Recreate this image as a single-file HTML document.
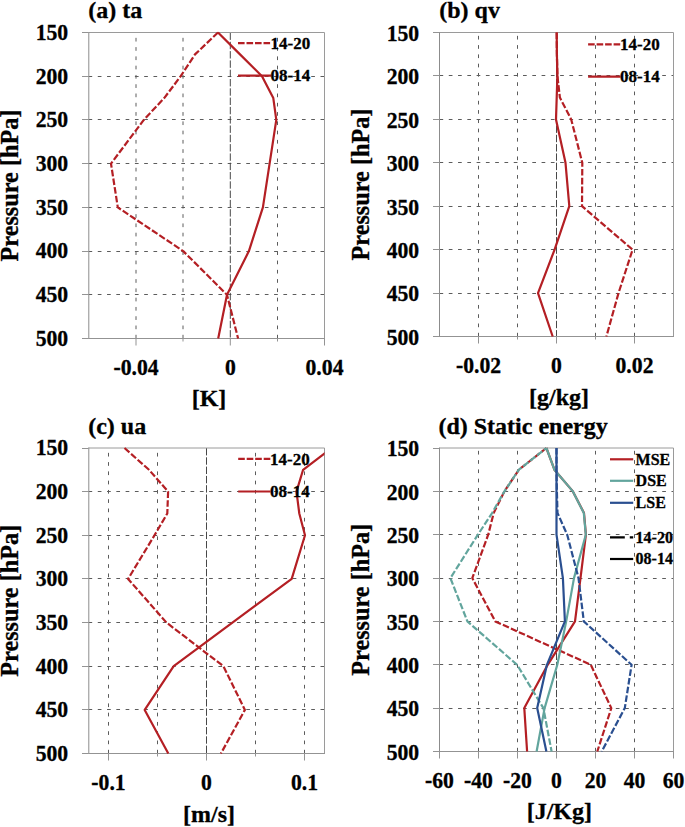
<!DOCTYPE html>
<html><head><meta charset="utf-8"><style>
html,body{margin:0;padding:0;background:#fff;width:685px;height:827px;overflow:hidden}
svg{display:block;font-family:"Liberation Serif",serif}
</style></head><body>
<svg width="685" height="827" viewBox="0 0 685 827">
<rect width="685" height="827" fill="#fff"/>
<line x1="88.5" y1="76.5" x2="324.5" y2="76.5" stroke="#5c5c5c" stroke-width="1" stroke-dasharray="3.7 5.58"/>
<line x1="88.5" y1="119.5" x2="324.5" y2="119.5" stroke="#5c5c5c" stroke-width="1" stroke-dasharray="3.7 5.58"/>
<line x1="88.5" y1="163.5" x2="324.5" y2="163.5" stroke="#5c5c5c" stroke-width="1" stroke-dasharray="3.7 5.58"/>
<line x1="88.5" y1="207.5" x2="324.5" y2="207.5" stroke="#5c5c5c" stroke-width="1" stroke-dasharray="3.7 5.58"/>
<line x1="88.5" y1="251.5" x2="324.5" y2="251.5" stroke="#5c5c5c" stroke-width="1" stroke-dasharray="3.7 5.58"/>
<line x1="88.5" y1="294.5" x2="324.5" y2="294.5" stroke="#5c5c5c" stroke-width="1" stroke-dasharray="3.7 5.58"/>
<line x1="136.0" y1="338.5" x2="136.0" y2="32.5" stroke="#5c5c5c" stroke-width="1" stroke-dasharray="3.7 5.58"/>
<line x1="183.0" y1="338.5" x2="183.0" y2="32.5" stroke="#5c5c5c" stroke-width="1" stroke-dasharray="3.7 5.58"/>
<line x1="277.5" y1="338.5" x2="277.5" y2="32.5" stroke="#5c5c5c" stroke-width="1" stroke-dasharray="3.7 5.58"/>
<line x1="230.3" y1="32.5" x2="230.3" y2="338.5" stroke="#484848" stroke-width="1" stroke-dasharray="7.4 1.9"/>
<path d="M88.5 32.5H324.5V338.5" fill="none" stroke="#9a9a9a" stroke-width="1"/>
<line x1="88.8" y1="32.0" x2="88.8" y2="339.0" stroke="#8c8c8c" stroke-width="1"/>
<line x1="88.5" y1="338.5" x2="325.0" y2="338.5" stroke="#939393" stroke-width="1"/>
<line x1="82.0" y1="32.5" x2="88.5" y2="32.5" stroke="#939393" stroke-width="1"/>
<text transform="translate(68.20,39.90) scale(1,1.045)" text-anchor="end" font-size="21.7" font-family="Liberation Serif" font-weight="bold" stroke="#000" stroke-width="0.3">150</text>
<line x1="82.0" y1="76.5" x2="88.5" y2="76.5" stroke="#939393" stroke-width="1"/>
<text transform="translate(68.20,83.61) scale(1,1.045)" text-anchor="end" font-size="21.7" font-family="Liberation Serif" font-weight="bold" stroke="#000" stroke-width="0.3">200</text>
<line x1="82.0" y1="119.5" x2="88.5" y2="119.5" stroke="#939393" stroke-width="1"/>
<text transform="translate(68.20,127.33) scale(1,1.045)" text-anchor="end" font-size="21.7" font-family="Liberation Serif" font-weight="bold" stroke="#000" stroke-width="0.3">250</text>
<line x1="82.0" y1="163.5" x2="88.5" y2="163.5" stroke="#939393" stroke-width="1"/>
<text transform="translate(68.20,171.04) scale(1,1.045)" text-anchor="end" font-size="21.7" font-family="Liberation Serif" font-weight="bold" stroke="#000" stroke-width="0.3">300</text>
<line x1="82.0" y1="207.5" x2="88.5" y2="207.5" stroke="#939393" stroke-width="1"/>
<text transform="translate(68.20,214.76) scale(1,1.045)" text-anchor="end" font-size="21.7" font-family="Liberation Serif" font-weight="bold" stroke="#000" stroke-width="0.3">350</text>
<line x1="82.0" y1="251.5" x2="88.5" y2="251.5" stroke="#939393" stroke-width="1"/>
<text transform="translate(68.20,258.47) scale(1,1.045)" text-anchor="end" font-size="21.7" font-family="Liberation Serif" font-weight="bold" stroke="#000" stroke-width="0.3">400</text>
<line x1="82.0" y1="294.5" x2="88.5" y2="294.5" stroke="#939393" stroke-width="1"/>
<text transform="translate(68.20,302.19) scale(1,1.045)" text-anchor="end" font-size="21.7" font-family="Liberation Serif" font-weight="bold" stroke="#000" stroke-width="0.3">450</text>
<line x1="82.0" y1="338.5" x2="88.5" y2="338.5" stroke="#939393" stroke-width="1"/>
<text transform="translate(68.20,345.90) scale(1,1.045)" text-anchor="end" font-size="21.7" font-family="Liberation Serif" font-weight="bold" stroke="#000" stroke-width="0.3">500</text>
<line x1="136.0" y1="338.5" x2="136.0" y2="345.5" stroke="#939393" stroke-width="1"/>
<line x1="230.3" y1="338.5" x2="230.3" y2="345.5" stroke="#939393" stroke-width="1"/>
<line x1="324.5" y1="338.5" x2="324.5" y2="345.5" stroke="#939393" stroke-width="1"/>
<line x1="183.0" y1="338.5" x2="183.0" y2="341.5" stroke="#939393" stroke-width="1"/>
<line x1="277.5" y1="338.5" x2="277.5" y2="341.5" stroke="#939393" stroke-width="1"/>
<text transform="translate(136.00,374.60) scale(1,1.045)" text-anchor="middle" font-size="21.7" font-family="Liberation Serif" font-weight="bold" stroke="#000" stroke-width="0.3">-0.04</text>
<text transform="translate(230.30,374.60) scale(1,1.045)" text-anchor="middle" font-size="21.7" font-family="Liberation Serif" font-weight="bold" stroke="#000" stroke-width="0.3">0</text>
<text transform="translate(324.50,374.60) scale(1,1.045)" text-anchor="middle" font-size="21.7" font-family="Liberation Serif" font-weight="bold" stroke="#000" stroke-width="0.3">0.04</text>
<text transform="translate(88.20,18.20)" font-size="24" font-family="Liberation Serif" font-weight="bold" stroke="#000" stroke-width="0.3">(a) ta</text>
<text transform="translate(209.00,406.30) scale(1,0.93)" text-anchor="middle" font-size="24" font-family="Liberation Serif" font-weight="bold" stroke="#000" stroke-width="0.3">[K]</text>
<text transform="translate(17.60,185.50) rotate(-90) scale(1.01,1.04)" text-anchor="middle" font-size="24" font-family="Liberation Serif" font-weight="bold" stroke="#000" stroke-width="0.3">Pressure [hPa]</text>
<line x1="439.5" y1="75.5" x2="673.5" y2="75.5" stroke="#5c5c5c" stroke-width="1" stroke-dasharray="3.7 5.58"/>
<line x1="439.5" y1="119.5" x2="673.5" y2="119.5" stroke="#5c5c5c" stroke-width="1" stroke-dasharray="3.7 5.58"/>
<line x1="439.5" y1="162.5" x2="673.5" y2="162.5" stroke="#5c5c5c" stroke-width="1" stroke-dasharray="3.7 5.58"/>
<line x1="439.5" y1="206.5" x2="673.5" y2="206.5" stroke="#5c5c5c" stroke-width="1" stroke-dasharray="3.7 5.58"/>
<line x1="439.5" y1="249.5" x2="673.5" y2="249.5" stroke="#5c5c5c" stroke-width="1" stroke-dasharray="3.7 5.58"/>
<line x1="439.5" y1="293.5" x2="673.5" y2="293.5" stroke="#5c5c5c" stroke-width="1" stroke-dasharray="3.7 5.58"/>
<line x1="478.5" y1="336.5" x2="478.5" y2="32.5" stroke="#5c5c5c" stroke-width="1" stroke-dasharray="3.7 5.58"/>
<line x1="517.5" y1="336.5" x2="517.5" y2="32.5" stroke="#5c5c5c" stroke-width="1" stroke-dasharray="3.7 5.58"/>
<line x1="595.5" y1="336.5" x2="595.5" y2="32.5" stroke="#5c5c5c" stroke-width="1" stroke-dasharray="3.7 5.58"/>
<line x1="634.5" y1="336.5" x2="634.5" y2="32.5" stroke="#5c5c5c" stroke-width="1" stroke-dasharray="3.7 5.58"/>
<line x1="556.5" y1="32.5" x2="556.5" y2="336.5" stroke="#484848" stroke-width="1" stroke-dasharray="7.4 1.9"/>
<path d="M439.5 32.5H673.5V336.5" fill="none" stroke="#9a9a9a" stroke-width="1"/>
<line x1="439.5" y1="32.0" x2="439.5" y2="337.0" stroke="#8c8c8c" stroke-width="1"/>
<line x1="439.5" y1="336.5" x2="674.0" y2="336.5" stroke="#939393" stroke-width="1"/>
<line x1="433.0" y1="32.5" x2="439.5" y2="32.5" stroke="#939393" stroke-width="1"/>
<text transform="translate(419.20,40.80) scale(1,1.045)" text-anchor="end" font-size="21.7" font-family="Liberation Serif" font-weight="bold" stroke="#000" stroke-width="0.3">150</text>
<line x1="433.0" y1="75.5" x2="439.5" y2="75.5" stroke="#939393" stroke-width="1"/>
<text transform="translate(419.20,84.23) scale(1,1.045)" text-anchor="end" font-size="21.7" font-family="Liberation Serif" font-weight="bold" stroke="#000" stroke-width="0.3">200</text>
<line x1="433.0" y1="119.5" x2="439.5" y2="119.5" stroke="#939393" stroke-width="1"/>
<text transform="translate(419.20,127.66) scale(1,1.045)" text-anchor="end" font-size="21.7" font-family="Liberation Serif" font-weight="bold" stroke="#000" stroke-width="0.3">250</text>
<line x1="433.0" y1="162.5" x2="439.5" y2="162.5" stroke="#939393" stroke-width="1"/>
<text transform="translate(419.20,171.09) scale(1,1.045)" text-anchor="end" font-size="21.7" font-family="Liberation Serif" font-weight="bold" stroke="#000" stroke-width="0.3">300</text>
<line x1="433.0" y1="206.5" x2="439.5" y2="206.5" stroke="#939393" stroke-width="1"/>
<text transform="translate(419.20,214.51) scale(1,1.045)" text-anchor="end" font-size="21.7" font-family="Liberation Serif" font-weight="bold" stroke="#000" stroke-width="0.3">350</text>
<line x1="433.0" y1="249.5" x2="439.5" y2="249.5" stroke="#939393" stroke-width="1"/>
<text transform="translate(419.20,257.94) scale(1,1.045)" text-anchor="end" font-size="21.7" font-family="Liberation Serif" font-weight="bold" stroke="#000" stroke-width="0.3">400</text>
<line x1="433.0" y1="293.5" x2="439.5" y2="293.5" stroke="#939393" stroke-width="1"/>
<text transform="translate(419.20,301.37) scale(1,1.045)" text-anchor="end" font-size="21.7" font-family="Liberation Serif" font-weight="bold" stroke="#000" stroke-width="0.3">450</text>
<line x1="433.0" y1="336.5" x2="439.5" y2="336.5" stroke="#939393" stroke-width="1"/>
<text transform="translate(419.20,344.80) scale(1,1.045)" text-anchor="end" font-size="21.7" font-family="Liberation Serif" font-weight="bold" stroke="#000" stroke-width="0.3">500</text>
<line x1="478.5" y1="336.5" x2="478.5" y2="343.5" stroke="#939393" stroke-width="1"/>
<line x1="556.5" y1="336.5" x2="556.5" y2="343.5" stroke="#939393" stroke-width="1"/>
<line x1="634.5" y1="336.5" x2="634.5" y2="343.5" stroke="#939393" stroke-width="1"/>
<line x1="517.5" y1="336.5" x2="517.5" y2="339.5" stroke="#939393" stroke-width="1"/>
<line x1="595.5" y1="336.5" x2="595.5" y2="339.5" stroke="#939393" stroke-width="1"/>
<text transform="translate(478.50,373.00) scale(1,1.045)" text-anchor="middle" font-size="21.7" font-family="Liberation Serif" font-weight="bold" stroke="#000" stroke-width="0.3">-0.02</text>
<text transform="translate(556.50,373.00) scale(1,1.045)" text-anchor="middle" font-size="21.7" font-family="Liberation Serif" font-weight="bold" stroke="#000" stroke-width="0.3">0</text>
<text transform="translate(634.50,373.00) scale(1,1.045)" text-anchor="middle" font-size="21.7" font-family="Liberation Serif" font-weight="bold" stroke="#000" stroke-width="0.3">0.02</text>
<text transform="translate(439.20,18.00)" font-size="24" font-family="Liberation Serif" font-weight="bold" stroke="#000" stroke-width="0.3">(b) qv</text>
<text transform="translate(559.00,404.80) scale(1,0.93)" text-anchor="middle" font-size="24" font-family="Liberation Serif" font-weight="bold" stroke="#000" stroke-width="0.3">[g/kg]</text>
<text transform="translate(368.60,184.50) rotate(-90) scale(1.01,1.04)" text-anchor="middle" font-size="24" font-family="Liberation Serif" font-weight="bold" stroke="#000" stroke-width="0.3">Pressure [hPa]</text>
<line x1="88.5" y1="491.5" x2="324.5" y2="491.5" stroke="#5c5c5c" stroke-width="1" stroke-dasharray="3.7 5.58"/>
<line x1="88.5" y1="535.5" x2="324.5" y2="535.5" stroke="#5c5c5c" stroke-width="1" stroke-dasharray="3.7 5.58"/>
<line x1="88.5" y1="578.5" x2="324.5" y2="578.5" stroke="#5c5c5c" stroke-width="1" stroke-dasharray="3.7 5.58"/>
<line x1="88.5" y1="622.5" x2="324.5" y2="622.5" stroke="#5c5c5c" stroke-width="1" stroke-dasharray="3.7 5.58"/>
<line x1="88.5" y1="666.5" x2="324.5" y2="666.5" stroke="#5c5c5c" stroke-width="1" stroke-dasharray="3.7 5.58"/>
<line x1="88.5" y1="709.5" x2="324.5" y2="709.5" stroke="#5c5c5c" stroke-width="1" stroke-dasharray="3.7 5.58"/>
<line x1="108.5" y1="753.5" x2="108.5" y2="448.0" stroke="#5c5c5c" stroke-width="1" stroke-dasharray="3.7 5.58"/>
<line x1="157.5" y1="753.5" x2="157.5" y2="448.0" stroke="#5c5c5c" stroke-width="1" stroke-dasharray="3.7 5.58"/>
<line x1="255.5" y1="753.5" x2="255.5" y2="448.0" stroke="#5c5c5c" stroke-width="1" stroke-dasharray="3.7 5.58"/>
<line x1="304.5" y1="753.5" x2="304.5" y2="448.0" stroke="#5c5c5c" stroke-width="1" stroke-dasharray="3.7 5.58"/>
<line x1="206.5" y1="448.0" x2="206.5" y2="753.5" stroke="#484848" stroke-width="1" stroke-dasharray="7.4 1.9"/>
<path d="M88.5 448.0H324.5V753.5" fill="none" stroke="#9a9a9a" stroke-width="1"/>
<line x1="88.8" y1="447.5" x2="88.8" y2="754.0" stroke="#8c8c8c" stroke-width="1"/>
<line x1="88.5" y1="753.5" x2="325.0" y2="753.5" stroke="#939393" stroke-width="1"/>
<line x1="82.0" y1="448.5" x2="88.5" y2="448.5" stroke="#939393" stroke-width="1"/>
<text transform="translate(68.20,455.40) scale(1,1.045)" text-anchor="end" font-size="21.7" font-family="Liberation Serif" font-weight="bold" stroke="#000" stroke-width="0.3">150</text>
<line x1="82.0" y1="491.5" x2="88.5" y2="491.5" stroke="#939393" stroke-width="1"/>
<text transform="translate(68.20,499.04) scale(1,1.045)" text-anchor="end" font-size="21.7" font-family="Liberation Serif" font-weight="bold" stroke="#000" stroke-width="0.3">200</text>
<line x1="82.0" y1="535.5" x2="88.5" y2="535.5" stroke="#939393" stroke-width="1"/>
<text transform="translate(68.20,542.69) scale(1,1.045)" text-anchor="end" font-size="21.7" font-family="Liberation Serif" font-weight="bold" stroke="#000" stroke-width="0.3">250</text>
<line x1="82.0" y1="578.5" x2="88.5" y2="578.5" stroke="#939393" stroke-width="1"/>
<text transform="translate(68.20,586.33) scale(1,1.045)" text-anchor="end" font-size="21.7" font-family="Liberation Serif" font-weight="bold" stroke="#000" stroke-width="0.3">300</text>
<line x1="82.0" y1="622.5" x2="88.5" y2="622.5" stroke="#939393" stroke-width="1"/>
<text transform="translate(68.20,629.97) scale(1,1.045)" text-anchor="end" font-size="21.7" font-family="Liberation Serif" font-weight="bold" stroke="#000" stroke-width="0.3">350</text>
<line x1="82.0" y1="666.5" x2="88.5" y2="666.5" stroke="#939393" stroke-width="1"/>
<text transform="translate(68.20,673.61) scale(1,1.045)" text-anchor="end" font-size="21.7" font-family="Liberation Serif" font-weight="bold" stroke="#000" stroke-width="0.3">400</text>
<line x1="82.0" y1="709.5" x2="88.5" y2="709.5" stroke="#939393" stroke-width="1"/>
<text transform="translate(68.20,717.26) scale(1,1.045)" text-anchor="end" font-size="21.7" font-family="Liberation Serif" font-weight="bold" stroke="#000" stroke-width="0.3">450</text>
<line x1="82.0" y1="753.5" x2="88.5" y2="753.5" stroke="#939393" stroke-width="1"/>
<text transform="translate(68.20,760.90) scale(1,1.045)" text-anchor="end" font-size="21.7" font-family="Liberation Serif" font-weight="bold" stroke="#000" stroke-width="0.3">500</text>
<line x1="108.5" y1="753.5" x2="108.5" y2="760.5" stroke="#939393" stroke-width="1"/>
<line x1="206.5" y1="753.5" x2="206.5" y2="760.5" stroke="#939393" stroke-width="1"/>
<line x1="304.5" y1="753.5" x2="304.5" y2="760.5" stroke="#939393" stroke-width="1"/>
<line x1="157.5" y1="753.5" x2="157.5" y2="756.5" stroke="#939393" stroke-width="1"/>
<line x1="255.5" y1="753.5" x2="255.5" y2="756.5" stroke="#939393" stroke-width="1"/>
<text transform="translate(108.50,789.60) scale(1,1.045)" text-anchor="middle" font-size="21.7" font-family="Liberation Serif" font-weight="bold" stroke="#000" stroke-width="0.3">-0.1</text>
<text transform="translate(206.50,789.60) scale(1,1.045)" text-anchor="middle" font-size="21.7" font-family="Liberation Serif" font-weight="bold" stroke="#000" stroke-width="0.3">0</text>
<text transform="translate(304.50,789.60) scale(1,1.045)" text-anchor="middle" font-size="21.7" font-family="Liberation Serif" font-weight="bold" stroke="#000" stroke-width="0.3">0.1</text>
<text transform="translate(88.20,433.50)" font-size="24" font-family="Liberation Serif" font-weight="bold" stroke="#000" stroke-width="0.3">(c) ua</text>
<text transform="translate(209.00,822.20) scale(1,0.93)" text-anchor="middle" font-size="24" font-family="Liberation Serif" font-weight="bold" stroke="#000" stroke-width="0.3">[m/s]</text>
<text transform="translate(17.60,600.75) rotate(-90) scale(1.01,1.04)" text-anchor="middle" font-size="24" font-family="Liberation Serif" font-weight="bold" stroke="#000" stroke-width="0.3">Pressure [hPa]</text>
<line x1="439.5" y1="491.5" x2="673.5" y2="491.5" stroke="#5c5c5c" stroke-width="1" stroke-dasharray="3.7 5.58"/>
<line x1="439.5" y1="534.5" x2="673.5" y2="534.5" stroke="#5c5c5c" stroke-width="1" stroke-dasharray="3.7 5.58"/>
<line x1="439.5" y1="578.5" x2="673.5" y2="578.5" stroke="#5c5c5c" stroke-width="1" stroke-dasharray="3.7 5.58"/>
<line x1="439.5" y1="621.5" x2="673.5" y2="621.5" stroke="#5c5c5c" stroke-width="1" stroke-dasharray="3.7 5.58"/>
<line x1="439.5" y1="664.5" x2="673.5" y2="664.5" stroke="#5c5c5c" stroke-width="1" stroke-dasharray="3.7 5.58"/>
<line x1="439.5" y1="708.5" x2="673.5" y2="708.5" stroke="#5c5c5c" stroke-width="1" stroke-dasharray="3.7 5.58"/>
<line x1="478.5" y1="751.5" x2="478.5" y2="448.0" stroke="#5c5c5c" stroke-width="1" stroke-dasharray="3.7 5.58"/>
<line x1="517.5" y1="751.5" x2="517.5" y2="448.0" stroke="#5c5c5c" stroke-width="1" stroke-dasharray="3.7 5.58"/>
<line x1="595.5" y1="751.5" x2="595.5" y2="448.0" stroke="#5c5c5c" stroke-width="1" stroke-dasharray="3.7 5.58"/>
<line x1="634.5" y1="751.5" x2="634.5" y2="448.0" stroke="#5c5c5c" stroke-width="1" stroke-dasharray="3.7 5.58"/>
<line x1="556.5" y1="448.0" x2="556.5" y2="751.5" stroke="#484848" stroke-width="1" stroke-dasharray="7.4 1.9"/>
<path d="M439.5 448.0H673.5V751.5" fill="none" stroke="#9a9a9a" stroke-width="1"/>
<line x1="439.5" y1="447.5" x2="439.5" y2="752.0" stroke="#8c8c8c" stroke-width="1"/>
<line x1="439.5" y1="751.5" x2="674.0" y2="751.5" stroke="#939393" stroke-width="1"/>
<line x1="433.0" y1="448.5" x2="439.5" y2="448.5" stroke="#939393" stroke-width="1"/>
<text transform="translate(419.20,456.30) scale(1,1.045)" text-anchor="end" font-size="21.7" font-family="Liberation Serif" font-weight="bold" stroke="#000" stroke-width="0.3">150</text>
<line x1="433.0" y1="491.5" x2="439.5" y2="491.5" stroke="#939393" stroke-width="1"/>
<text transform="translate(419.20,499.66) scale(1,1.045)" text-anchor="end" font-size="21.7" font-family="Liberation Serif" font-weight="bold" stroke="#000" stroke-width="0.3">200</text>
<line x1="433.0" y1="534.5" x2="439.5" y2="534.5" stroke="#939393" stroke-width="1"/>
<text transform="translate(419.20,543.01) scale(1,1.045)" text-anchor="end" font-size="21.7" font-family="Liberation Serif" font-weight="bold" stroke="#000" stroke-width="0.3">250</text>
<line x1="433.0" y1="578.5" x2="439.5" y2="578.5" stroke="#939393" stroke-width="1"/>
<text transform="translate(419.20,586.37) scale(1,1.045)" text-anchor="end" font-size="21.7" font-family="Liberation Serif" font-weight="bold" stroke="#000" stroke-width="0.3">300</text>
<line x1="433.0" y1="621.5" x2="439.5" y2="621.5" stroke="#939393" stroke-width="1"/>
<text transform="translate(419.20,629.73) scale(1,1.045)" text-anchor="end" font-size="21.7" font-family="Liberation Serif" font-weight="bold" stroke="#000" stroke-width="0.3">350</text>
<line x1="433.0" y1="664.5" x2="439.5" y2="664.5" stroke="#939393" stroke-width="1"/>
<text transform="translate(419.20,673.09) scale(1,1.045)" text-anchor="end" font-size="21.7" font-family="Liberation Serif" font-weight="bold" stroke="#000" stroke-width="0.3">400</text>
<line x1="433.0" y1="708.5" x2="439.5" y2="708.5" stroke="#939393" stroke-width="1"/>
<text transform="translate(419.20,716.44) scale(1,1.045)" text-anchor="end" font-size="21.7" font-family="Liberation Serif" font-weight="bold" stroke="#000" stroke-width="0.3">450</text>
<line x1="433.0" y1="751.5" x2="439.5" y2="751.5" stroke="#939393" stroke-width="1"/>
<text transform="translate(419.20,759.80) scale(1,1.045)" text-anchor="end" font-size="21.7" font-family="Liberation Serif" font-weight="bold" stroke="#000" stroke-width="0.3">500</text>
<line x1="439.5" y1="751.5" x2="439.5" y2="758.5" stroke="#939393" stroke-width="1"/>
<line x1="478.5" y1="751.5" x2="478.5" y2="758.5" stroke="#939393" stroke-width="1"/>
<line x1="517.5" y1="751.5" x2="517.5" y2="758.5" stroke="#939393" stroke-width="1"/>
<line x1="556.5" y1="751.5" x2="556.5" y2="758.5" stroke="#939393" stroke-width="1"/>
<line x1="595.5" y1="751.5" x2="595.5" y2="758.5" stroke="#939393" stroke-width="1"/>
<line x1="634.5" y1="751.5" x2="634.5" y2="758.5" stroke="#939393" stroke-width="1"/>
<line x1="673.5" y1="751.5" x2="673.5" y2="758.5" stroke="#939393" stroke-width="1"/>
<text transform="translate(439.50,787.90) scale(1,1.045)" text-anchor="middle" font-size="21.7" font-family="Liberation Serif" font-weight="bold" stroke="#000" stroke-width="0.3">-60</text>
<text transform="translate(478.50,787.90) scale(1,1.045)" text-anchor="middle" font-size="21.7" font-family="Liberation Serif" font-weight="bold" stroke="#000" stroke-width="0.3">-40</text>
<text transform="translate(517.50,787.90) scale(1,1.045)" text-anchor="middle" font-size="21.7" font-family="Liberation Serif" font-weight="bold" stroke="#000" stroke-width="0.3">-20</text>
<text transform="translate(556.50,787.90) scale(1,1.045)" text-anchor="middle" font-size="21.7" font-family="Liberation Serif" font-weight="bold" stroke="#000" stroke-width="0.3">0</text>
<text transform="translate(595.50,787.90) scale(1,1.045)" text-anchor="middle" font-size="21.7" font-family="Liberation Serif" font-weight="bold" stroke="#000" stroke-width="0.3">20</text>
<text transform="translate(634.50,787.90) scale(1,1.045)" text-anchor="middle" font-size="21.7" font-family="Liberation Serif" font-weight="bold" stroke="#000" stroke-width="0.3">40</text>
<text transform="translate(673.50,787.90) scale(1,1.045)" text-anchor="middle" font-size="21.7" font-family="Liberation Serif" font-weight="bold" stroke="#000" stroke-width="0.3">60</text>
<text transform="translate(438.40,433.50)" font-size="24" font-family="Liberation Serif" font-weight="bold" stroke="#000" stroke-width="0.3">(d) Static energy</text>
<text transform="translate(559.30,819.30) scale(1,0.93)" text-anchor="middle" font-size="24" font-family="Liberation Serif" font-weight="bold" stroke="#000" stroke-width="0.3">[J/Kg]</text>
<text transform="translate(368.60,599.75) rotate(-90) scale(1.01,1.04)" text-anchor="middle" font-size="24" font-family="Liberation Serif" font-weight="bold" stroke="#000" stroke-width="0.3">Pressure [hPa]</text>
<polyline points="218.0,32.5 195.0,54.4 180.7,76.2 164.2,98.1 143.8,119.9 111.0,163.6 117.8,207.4 183.2,251.1 227.0,294.8 238.1,338.5" fill="none" stroke="#B41F24" stroke-width="2.2" stroke-linejoin="round" stroke-dasharray="6.6 2.2"/>
<polyline points="218.0,32.5 240.0,54.4 262.0,76.2 273.3,98.1 276.3,119.9 269.6,163.6 262.9,207.4 248.9,251.1 227.0,294.8 218.2,338.5" fill="none" stroke="#B41F24" stroke-width="2.2" stroke-linejoin="round"/>
<line x1="238" y1="43.1" x2="271" y2="43.1" stroke="#B41F24" stroke-width="2.2" stroke-dasharray="6.6 1.9"/>
<text transform="translate(270.60,48.80)" font-size="17" font-family="Liberation Serif" font-weight="bold" stroke="#000" stroke-width="0.3">14-20</text>
<line x1="238" y1="75.7" x2="271" y2="75.7" stroke="#B41F24" stroke-width="2.2"/>
<text transform="translate(270.60,81.40)" font-size="17" font-family="Liberation Serif" font-weight="bold" stroke="#000" stroke-width="0.3">08-14</text>
<polyline points="556.7,32.5 556.9,54.2 557.4,75.9 559.9,97.6 571.2,119.4 582.3,162.8 582.0,206.2 632.6,249.6 618.5,293.1 606.4,336.5" fill="none" stroke="#B41F24" stroke-width="2.2" stroke-linejoin="round" stroke-dasharray="6.6 2.2"/>
<polyline points="556.7,32.5 556.9,54.2 557.4,75.9 556.7,97.6 556.0,119.4 565.5,162.8 569.3,206.2 554.6,249.6 538.0,293.1 552.7,336.5" fill="none" stroke="#B41F24" stroke-width="2.2" stroke-linejoin="round"/>
<line x1="588.1" y1="44.4" x2="620.5" y2="44.4" stroke="#B41F24" stroke-width="2.2" stroke-dasharray="6.6 1.9"/>
<text transform="translate(620.10,50.10)" font-size="17" font-family="Liberation Serif" font-weight="bold" stroke="#000" stroke-width="0.3">14-20</text>
<line x1="588.1" y1="76.6" x2="620.5" y2="76.6" stroke="#B41F24" stroke-width="2.2"/>
<text transform="translate(620.10,82.30)" font-size="17" font-family="Liberation Serif" font-weight="bold" stroke="#000" stroke-width="0.3">08-14</text>
<clipPath id="cc"><rect x="88" y="440" width="236.5" height="320"/></clipPath>
<g clip-path="url(#cc)">
<polyline points="124.5,448.0 149.0,469.8 168.1,491.6 167.3,513.5 154.5,535.3 128.1,578.9 166.5,622.6 223.4,666.2 244.9,709.9 220.9,753.5" fill="none" stroke="#B41F24" stroke-width="2.2" stroke-linejoin="round" stroke-dasharray="6.6 2.2"/>
<polyline points="331.7,448.0 303.1,469.8 296.5,491.6 299.3,513.5 305.0,535.3 291.7,578.9 232.4,622.6 173.7,666.2 144.7,709.9 168.3,753.5" fill="none" stroke="#B41F24" stroke-width="2.2" stroke-linejoin="round"/>
</g>
<line x1="238.2" y1="458.8" x2="270.5" y2="458.8" stroke="#B41F24" stroke-width="2.2" stroke-dasharray="6.6 1.9"/>
<text transform="translate(270.10,464.50)" font-size="17" font-family="Liberation Serif" font-weight="bold" stroke="#000" stroke-width="0.3">14-20</text>
<line x1="238.2" y1="491.5" x2="270.5" y2="491.5" stroke="#B41F24" stroke-width="2.2"/>
<text transform="translate(270.10,497.20)" font-size="17" font-family="Liberation Serif" font-weight="bold" stroke="#000" stroke-width="0.3">08-14</text>
<polyline points="546.4,448.0 518.9,469.7 504.4,491.4 493.7,513.0 488.2,534.7 472.3,578.1 495.3,621.4 590.8,664.8 611.3,708.1 597.3,751.5" fill="none" stroke="#B41F24" stroke-width="2.2" stroke-linejoin="round" stroke-dasharray="6.6 2.2"/>
<polyline points="546.4,448.0 554.4,469.7 572.9,491.4 584.0,513.0 585.9,534.7 580.5,578.1 575.0,621.4 547.7,664.8 524.3,708.1 527.1,751.5" fill="none" stroke="#B41F24" stroke-width="2.2" stroke-linejoin="round"/>
<polyline points="546.4,448.0 518.9,469.7 504.4,491.4 492.1,513.0 477.9,534.7 450.4,578.1 467.4,621.4 517.1,664.8 543.4,708.1 551.6,751.5" fill="none" stroke="#62A59D" stroke-width="2.2" stroke-linejoin="round" stroke-dasharray="6.6 2.2" stroke-dashoffset="3.5"/>
<polyline points="546.4,448.0 554.4,469.7 572.9,491.4 583.8,513.0 585.8,534.7 574.0,578.1 566.2,621.4 557.3,664.8 544.6,708.1 536.6,751.5" fill="none" stroke="#62A59D" stroke-width="2.2" stroke-linejoin="round"/>
<polyline points="556.5,448.0 556.5,469.7 556.9,491.4 557.5,513.0 567.2,534.7 578.5,578.1 583.8,621.4 631.6,664.8 624.8,708.1 601.7,751.5" fill="none" stroke="#2A4F90" stroke-width="2.2" stroke-linejoin="round" stroke-dasharray="6.6 2.2"/>
<polyline points="556.5,448.0 556.5,469.7 556.5,491.4 556.5,513.0 556.5,534.7 562.9,578.1 564.9,621.4 546.9,664.8 537.2,708.1 546.4,751.5" fill="none" stroke="#2A4F90" stroke-width="2.2" stroke-linejoin="round"/>
<line x1="610" y1="459.3" x2="633.2" y2="459.3" stroke="#B41F24" stroke-width="2.2"/>
<text transform="translate(635.60,464.50)" font-size="16" font-family="Liberation Serif" font-weight="bold" stroke="#000" stroke-width="0.3">MSE</text>
<line x1="610" y1="480.8" x2="633.2" y2="480.8" stroke="#62A59D" stroke-width="2.2"/>
<text transform="translate(635.60,486.00)" font-size="16" font-family="Liberation Serif" font-weight="bold" stroke="#000" stroke-width="0.3">DSE</text>
<line x1="610" y1="502.8" x2="633.2" y2="502.8" stroke="#2A4F90" stroke-width="2.2"/>
<text transform="translate(635.60,508.00)" font-size="16" font-family="Liberation Serif" font-weight="bold" stroke="#000" stroke-width="0.3">LSE</text>
<line x1="610" y1="537.4" x2="633.2" y2="537.4" stroke="#000" stroke-width="2.2" stroke-dasharray="14.8 5"/>
<text transform="translate(635.60,542.60)" font-size="16" font-family="Liberation Serif" font-weight="bold" stroke="#000" stroke-width="0.3">14-20</text>
<line x1="610" y1="559.0" x2="633.2" y2="559.0" stroke="#000" stroke-width="2.2"/>
<text transform="translate(635.60,564.20)" font-size="16" font-family="Liberation Serif" font-weight="bold" stroke="#000" stroke-width="0.3">08-14</text>
</svg>
</body></html>
